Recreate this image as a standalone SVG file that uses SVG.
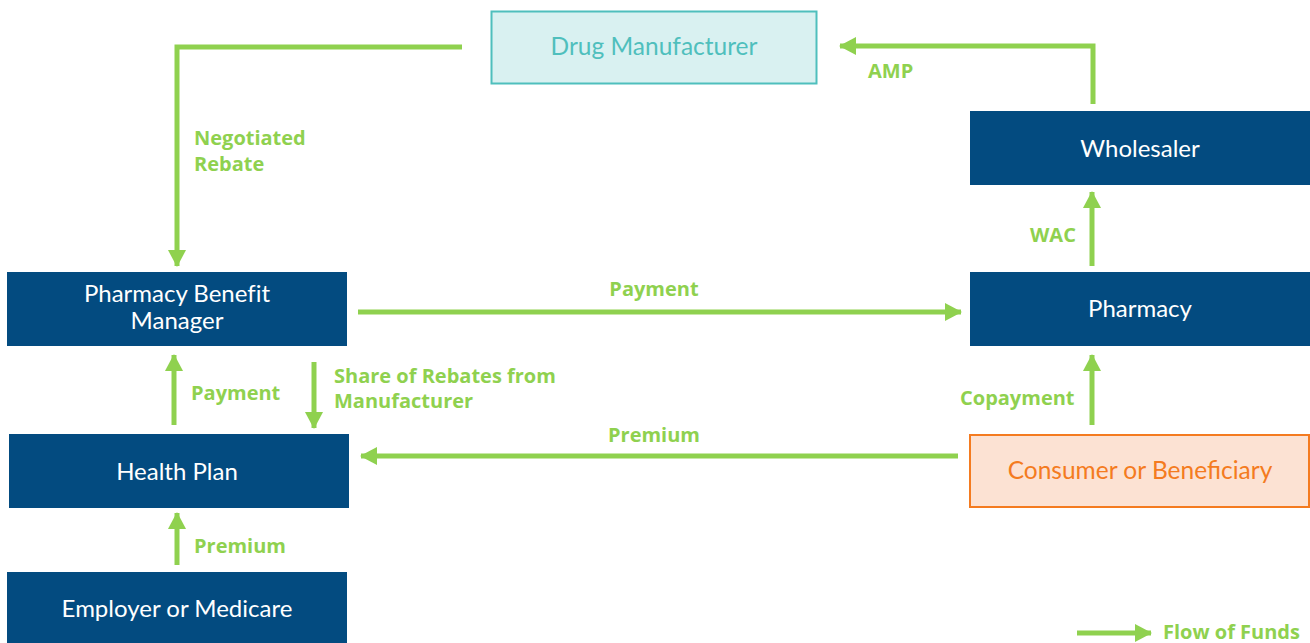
<svg xmlns="http://www.w3.org/2000/svg" width="1310" height="643" viewBox="0 0 1310 643">
<defs>
<marker id="ah" markerUnits="userSpaceOnUse" markerWidth="18" markerHeight="18" viewBox="0 0 18 18" refX="16" refY="9" orient="auto">
<path d="M0,0 L17,9 L0,18 Z" fill="#8fd14f"/>
</marker>
<style>
.navy rect{fill:#034b80}
.navy text{fill:#ffffff;font-family:Lato,"Liberation Sans",sans-serif;font-size:24px;text-anchor:middle;font-variant-ligatures:none}
.conn path{fill:none;stroke:#8fd14f;stroke-width:5;marker-end:url(#ah)}
.lbl{fill:#8fd14f;font-family:"Open Sans","Liberation Sans",sans-serif;font-weight:bold;font-size:20px}
</style>
</defs>
<rect width="1310" height="643" fill="#ffffff"/>
<g id="drug-manufacturer">
<rect x="491.5" y="11.5" width="325" height="72" fill="#d9f1f1" stroke="#4fbfbd" stroke-width="2"/>
<text x="654" y="55" fill="#4fbfbd" font-family="Lato,'Liberation Sans',sans-serif" font-size="24.5" text-anchor="middle">Drug Manufacturer</text>
</g>
<g id="wholesaler" class="navy">
<rect x="970" y="111" width="340" height="74"/>
<text x="1140" y="157">Wholesaler</text>
</g>
<g id="pharmacy" class="navy">
<rect x="970" y="272" width="340" height="74"/>
<text x="1140" y="317">Pharmacy</text>
</g>
<g id="pbm" class="navy">
<rect x="7" y="272" width="340" height="74"/>
<text x="177" y="302">Pharmacy Benefit</text>
<text x="177" y="329">Manager</text>
</g>
<g id="health-plan" class="navy">
<rect x="9" y="434" width="340" height="74"/>
<text x="177" y="480">Health Plan</text>
</g>
<g id="consumer">
<rect x="970" y="435" width="339" height="72" fill="#fce2d3" stroke="#f47b20" stroke-width="2"/>
<text x="1140" y="479" fill="#f47b20" font-family="Lato,'Liberation Sans',sans-serif" font-size="24.5" text-anchor="middle">Consumer or Beneficiary</text>
</g>
<g id="employer" class="navy">
<rect x="7" y="572" width="340" height="71"/>
<text x="177" y="617">Employer or Medicare</text>
</g>
<g id="connectors" class="conn">
<path d="M462,47 H177 V266"/>
<path d="M1093,104 V46 H840"/>
<path d="M1092,266 V192"/>
<path d="M358,312 H961"/>
<path d="M1092,425 V355"/>
<path d="M958,456 H361"/>
<path d="M174,425 V355"/>
<path d="M314,362 V428"/>
<path d="M177,565 V513"/>
<path d="M1077,633 H1151"/>
</g>
<g id="labels">
<text class="lbl" x="194" y="145">Negotiated</text>
<text class="lbl" x="194" y="171">Rebate</text>
<text class="lbl" x="868" y="78">AMP</text>
<text class="lbl" x="1030" y="242">WAC</text>
<text class="lbl" x="654" y="296" text-anchor="middle">Payment</text>
<text class="lbl" x="960" y="405">Copayment</text>
<text class="lbl" x="654" y="442" text-anchor="middle">Premium</text>
<text class="lbl" x="191" y="400">Payment</text>
<text class="lbl" x="334" y="383">Share of Rebates from</text>
<text class="lbl" x="334" y="408">Manufacturer</text>
<text class="lbl" x="194" y="553">Premium</text>
<text class="lbl" x="1163" y="639">Flow of Funds</text>
</g>
</svg>
